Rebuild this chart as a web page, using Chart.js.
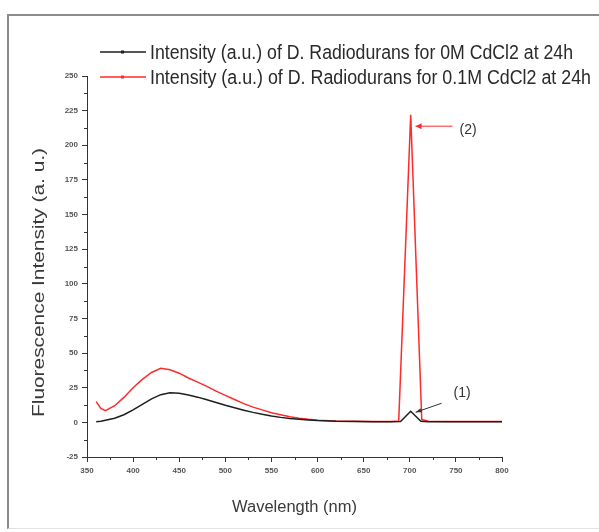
<!DOCTYPE html>
<html>
<head>
<meta charset="utf-8">
<script src="https://cdn.jsdelivr.net/npm/chart.js@4.4.1/dist/chart.umd.min.js"></script>
<style>
  html, body { margin: 0; padding: 0; background: #fff; overflow: hidden; }
  #wrap { position: relative; width: 599px; height: 532px; }
  #frame {
    position: absolute; left: 7px; top: 14px; width: 620px; height: 512px;
    border-left: 2px solid #8c8c8c; border-top: 2px solid #8c8c8c;
    border-bottom: 1px solid #e2e2e2; pointer-events: none;
  }
  canvas { position: absolute; left: 0; top: 0; }
</style>
</head>
<body>
<div id="wrap">
  <canvas id="chart" width="599" height="532"></canvas>
  <div id="frame"></div>
</div>
<script>
// Fluorescence spectra, wavelength in nm
const waveControl = [360, 365, 370, 380, 390, 400, 410, 420, 430, 440, 450, 460, 470, 480, 490, 500, 510, 520, 530, 540, 550, 560, 570, 580, 590, 600, 620, 640, 660, 680, 690, 701, 712, 720, 740, 760, 780, 800];
const intensityControl = [0.5, 0.8, 1.5, 3, 5.5, 9, 13, 17, 20, 21.3, 21, 19.8, 18.2, 16.3, 14.3, 12.3, 10.5, 8.8, 7.2, 5.8, 4.6, 3.6, 2.8, 2.2, 1.7, 1.3, 0.8, 0.6, 0.5, 0.5, 0.6, 8, 0.8, 0.5, 0.5, 0.5, 0.5, 0.5];

const waveCd = [360, 365, 370, 380, 390, 400, 410, 420, 430, 440, 450, 460, 470, 480, 490, 500, 510, 520, 530, 540, 550, 560, 570, 580, 590, 600, 620, 640, 660, 680, 688, 701, 713, 720, 740, 760, 780, 800];
const intensityCd = [15, 10, 8.5, 12, 18, 25, 31, 36, 39, 38, 35.5, 32, 29, 26, 22.5, 19.5, 16.5, 13.5, 11, 9, 7, 5.5, 4, 3, 2.2, 1.6, 1, 0.8, 0.6, 0.6, 1, 222, 2, 0.8, 0.6, 0.6, 0.6, 0.6];

const seriesLabels = [
  'Intensity (a.u.) of D. Radiodurans for 0M CdCl2 at 24h',
  'Intensity (a.u.) of D. Radiodurans for 0.1M CdCl2 at 24h'
];
const seriesColors = ['#1e1e1e', '#ff2a2a'];

const xTicks = [350, 400, 450, 500, 550, 600, 650, 700, 750, 800];
const yTicks = [-25, 0, 25, 50, 75, 100, 125, 150, 175, 200, 225, 250];

// peak markers: [label, wavelength, intensity]
const peakNotes = [['(1)', 702, 8], ['(2)', 703, 221]];

const toPoints = (xs, ys) => xs.map((x, i) => ({ x, y: ys[i] }));

const TICK_FONT = { family: 'Arial, "Liberation Sans"', size: 8, weight: 'bold' };
const TEXT = '#3a3a3a';

// draw text squeezed/stretched to a given width
function fitText(ctx, str, x, y, width) {
  const w = ctx.measureText(str).width;
  ctx.save();
  ctx.translate(x, y);
  ctx.scale(width / w, 1);
  ctx.fillText(str, 0, 0);
  ctx.restore();
}

// minor ticks between the labelled ones
const minorTicks = {
  id: 'minorTicks',
  afterDraw(chart) {
    const { ctx, scales: { x, y }, chartArea: a } = chart;
    ctx.save();
    ctx.strokeStyle = '#333';
    ctx.lineWidth = 1;
    ctx.beginPath();
    for (let v = xTicks[0] + 25; v < xTicks[xTicks.length - 1]; v += 50) {
      const px = Math.round(x.getPixelForValue(v)) + 0.5;
      ctx.moveTo(px, a.bottom);
      ctx.lineTo(px, a.bottom + 3);
    }
    for (let v = yTicks[0] + 12.5; v < yTicks[yTicks.length - 1]; v += 25) {
      const py = Math.round(y.getPixelForValue(v)) + 0.5;
      ctx.moveTo(a.left, py);
      ctx.lineTo(a.left - 3, py);
    }
    ctx.stroke();
    ctx.restore();
  }
};

// legend, axis titles and peak labels
const decorations = {
  id: 'decorations',
  afterDraw(chart) {
    const { ctx, scales: { x, y } } = chart;
    ctx.save();

    // legend
    const legendRows = [52, 77];
    const textWidths = [423, 441];
    seriesLabels.forEach((label, i) => {
      const ly = legendRows[i];
      ctx.strokeStyle = seriesColors[i];
      ctx.lineWidth = 1.5;
      ctx.beginPath();
      ctx.moveTo(100, ly);
      ctx.lineTo(146, ly);
      ctx.stroke();
      ctx.fillStyle = seriesColors[i];
      ctx.fillRect(121, ly - 1.5, 3, 3);

      ctx.font = '20px Arial, "Liberation Sans"';
      ctx.fillStyle = '#2a2a2a';
      ctx.textBaseline = 'middle';
      ctx.textAlign = 'left';
      fitText(ctx, label, 150, ly + 1, textWidths[i]);
    });

    // axis titles
    ctx.fillStyle = TEXT;
    ctx.textAlign = 'left';
    ctx.textBaseline = 'middle';
    ctx.font = '16px Arial, "Liberation Sans"';
    fitText(ctx, 'Wavelength (nm)', 232, 508, 125);
    ctx.font = '17px Arial, "Liberation Sans"';
    ctx.save();
    ctx.translate(39, 417);
    ctx.rotate(-Math.PI / 2);
    fitText(ctx, 'Fluorescence Intensity (a. u.)', 0, 0, 269);
    ctx.restore();

    // peak labels with arrows
    ctx.font = '14px Arial, "Liberation Sans"';
    ctx.textAlign = 'left';

    const [l1, w1, v1] = peakNotes[0];
    const p1x = x.getPixelForValue(w1) + 4, p1y = y.getPixelForValue(v1) + 1;
    ctx.strokeStyle = '#333';
    ctx.fillStyle = '#333';
    ctx.lineWidth = 1;
    ctx.beginPath();
    ctx.moveTo(p1x + 26, p1y - 9);
    ctx.lineTo(p1x, p1y);
    ctx.stroke();
    ctx.beginPath();
    ctx.moveTo(p1x, p1y);
    ctx.lineTo(p1x + 5, p1y - 4);
    ctx.lineTo(p1x + 6, p1y);
    ctx.closePath();
    ctx.fill();
    ctx.fillText(l1, p1x + 38, p1y - 19);

    const [l2, w2, v2] = peakNotes[1];
    const p2x = x.getPixelForValue(w2) + 3, p2y = y.getPixelForValue(v2) + 10;
    ctx.strokeStyle = seriesColors[1];
    ctx.fillStyle = seriesColors[1];
    ctx.beginPath();
    ctx.moveTo(p2x + 37, p2y);
    ctx.lineTo(p2x, p2y);
    ctx.stroke();
    ctx.beginPath();
    ctx.moveTo(p2x, p2y);
    ctx.lineTo(p2x + 6, p2y - 3);
    ctx.lineTo(p2x + 6, p2y + 3);
    ctx.closePath();
    ctx.fill();
    ctx.fillStyle = '#333';
    ctx.fillText(l2, p2x + 44, p2y + 4);

    ctx.restore();
  }
};

new Chart(document.getElementById('chart'), {
  type: 'line',
  data: {
    datasets: [
      {
        label: seriesLabels[0],
        data: toPoints(waveControl, intensityControl),
        borderColor: seriesColors[0],
        borderWidth: 1.5
      },
      {
        label: seriesLabels[1],
        data: toPoints(waveCd, intensityCd),
        borderColor: seriesColors[1],
        borderWidth: 1.5
      }
    ]
  },
  options: {
    responsive: false,
    animation: false,
    events: [],
    elements: {
      point: { radius: 0 },
      line: { tension: 0 }
    },
    layout: { padding: { left: 0, top: 76, right: 97, bottom: 0 } },
    plugins: { legend: { display: false }, tooltip: { enabled: false } },
    scales: {
      x: {
        type: 'linear',
        min: xTicks[0],
        max: xTicks[xTicks.length - 1],
        afterBuildTicks: (s) => { s.ticks = xTicks.map((value) => ({ value })); },
        afterFit: (s) => { s.height = 75; },
        border: { color: '#333', width: 1 },
        grid: { drawOnChartArea: false, tickLength: 5, tickColor: '#333' },
        ticks: { color: '#555', font: TICK_FONT, padding: 4, maxRotation: 0 }
      },
      y: {
        min: yTicks[0],
        max: yTicks[yTicks.length - 1],
        afterBuildTicks: (s) => { s.ticks = yTicks.map((value) => ({ value })); },
        afterFit: (s) => { s.width = 87; },
        border: { color: '#333', width: 1 },
        grid: { drawOnChartArea: false, tickLength: 5, tickColor: '#333' },
        ticks: { color: '#555', font: TICK_FONT, padding: 4 }
      }
    }
  },
  plugins: [minorTicks, decorations]
});
</script>
</body>
</html>
